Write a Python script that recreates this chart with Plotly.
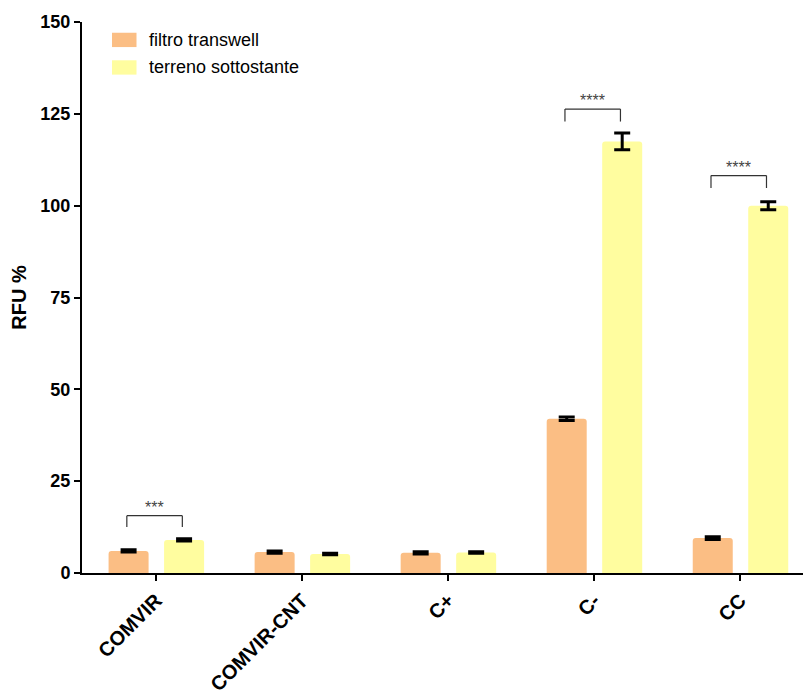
import plotly.graph_objects as go

categories = ["COMVIR", "COMVIR-CNT", "C+", "C-", "CC"]
filtro = [6.0, 5.7, 5.5, 42.0, 9.5]
filtro_err = [0.3, 0.3, 0.3, 0.5, 0.4]
terreno = [9.0, 5.2, 5.6, 117.5, 100.0]
terreno_err = [0.3, 0.2, 0.2, 2.3, 1.1]
series_names = ["filtro transwell", "terreno sottostante"]

# significance brackets: category index, bracket top, leg bottom, label
sig_idx = [0, 3, 4]
sig_top = [15.6, 126.3, 108.2]
sig_leg = [12.5, 122.9, 104.8]
sig_label = ["***", "****", "****"]

ORANGE = "#FBBE84"
YELLOW = "#FFFD9F"
colors = [ORANGE, YELLOW]
BW = 0.274

fig = go.Figure()
fig.add_trace(go.Bar(
    x=categories, y=filtro, name=series_names[0],
    marker=dict(color=ORANGE, line=dict(width=0), cornerradius=3),
    width=BW, offset=-0.325,
    error_y=dict(type="data", array=filtro_err, color="black", thickness=3, width=8),
))
fig.add_trace(go.Bar(
    x=categories, y=terreno, name=series_names[1],
    marker=dict(color=YELLOW, line=dict(width=0), cornerradius=3),
    width=BW, offset=0.055,
    error_y=dict(type="data", array=terreno_err, color="black", thickness=3, width=8),
))

shapes = []
annotations = []
for i, top, leg, lab in zip(sig_idx, sig_top, sig_leg, sig_label):
    xl = i - 0.2
    xr = i + 0.18
    for (a0, b0, a1, b1) in [(xl, leg, xl, top), (xl, top, xr, top), (xr, top, xr, leg)]:
        shapes.append(dict(type="line", xref="x", yref="y", x0=a0, y0=b0, x1=a1, y1=b1,
                           line=dict(color="#333333", width=1.2)))
    annotations.append(dict(x=(xl + xr) / 2, y=top, xref="x", yref="y", text=lab,
                            showarrow=False, yanchor="bottom", yshift=-2,
                            font=dict(family="Arial", size=16, color="#444444")))

# legend drawn as swatches + text (paper coordinates)
leg_y = [0.9675, 0.9175]
for name, col, yc in zip(series_names, colors, leg_y):
    shapes.append(dict(type="rect", xref="paper", yref="paper",
                       x0=0.0416, x1=0.0756, y0=yc - 0.013, y1=yc + 0.013,
                       fillcolor=col, line=dict(width=0)))
    annotations.append(dict(x=0.0895, y=yc, xref="paper", yref="paper", text=name,
                            showarrow=False, xanchor="left", yanchor="middle",
                            font=dict(family="Arial", size=18, color="black")))

fig.update_layout(
    width=803, height=695,
    margin=dict(l=82, r=0, t=22, b=122),
    plot_bgcolor="white", paper_bgcolor="white",
    barmode="group",
    font=dict(family="Arial", color="black"),
    shapes=shapes, annotations=annotations,
    showlegend=False,
    xaxis=dict(
        range=[-0.507, 4.43], showline=True, linecolor="black", linewidth=2,
        ticks="outside", ticklen=6, tickwidth=2, tickcolor="black",
        tickangle=-45, tickfont=dict(family="Arial", size=20, color="black", weight="bold"),
        showgrid=False, zeroline=False, automargin=False,
    ),
    yaxis=dict(
        range=[0, 150], tickvals=[0, 25, 50, 75, 100, 125, 150],
        showline=True, linecolor="black", linewidth=2,
        ticks="outside", ticklen=6, tickwidth=2, tickcolor="black",
        tickfont=dict(family="Arial", size=18, color="black", weight="bold"),
        showgrid=False, zeroline=False, automargin=False,
        title=dict(text="RFU %", font=dict(family="Arial", size=20, color="black", weight="bold"), standoff=8),
    ),
)

fig.write_html("out.html")
